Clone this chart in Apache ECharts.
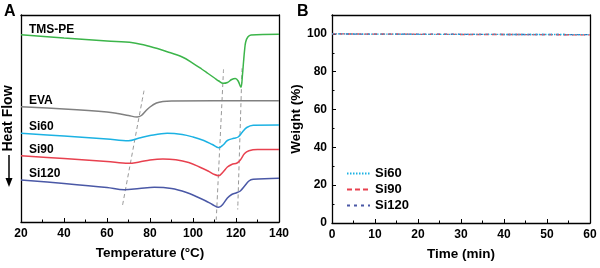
<!DOCTYPE html>
<html><head><meta charset="utf-8">
<script src="https://cdn.jsdelivr.net/npm/echarts@6/dist/echarts.min.js"></script>
<style>html,body{margin:0;padding:0;background:#fff}#c{width:600px;height:268px}</style>
</head><body><div id="c"></div>
<script>
// ---------- Panel A (DSC) ----------
const tmsT = [20,40,60,72,80,88,95,100,104,107,110,112,114,116,118,119.7,121,122.3,123,123.5,124,124.5,125.5,127,140];
const tmsV = [187.3,184,181,179.3,175.5,170.3,165,158.7,153,148.5,144,141,138.7,139.5,142.5,143.5,141,134.7,147,160,172,180,185,187,187.7];
const evaT = [20,40,60,65,70,74,76,78,80,83,86,90,140];
const evaV = [115.3,113,110,108.5,106.5,105,106.5,111,115,119,120.5,121,121.3];
const si60T = [20,40,60,70,75,80,88,95,100,105,109,112,114,116,119,121,123,125,128,140];
const si60V = [88.7,86,83,81.3,84,86.5,88.7,87.5,85,81.5,77.5,74.3,77,81.5,83.7,85,90,94.5,96.8,97];
const si90T = [20,40,60,70,75,80,86,92,98,103,107,110,112,114,116,118,120.5,122,124,126,130,140];
const si90V = [66.3,63.5,60.5,58.7,60,62,63,62.2,59.5,55,51,47.5,46.3,50,55,57.5,59,62,68.5,71.2,72.4,72.5];
const si120T = [20,40,60,68,75,82,90,97,102,106,109,112,114,116,118,120,122,124,126,128,140];
const si120V = [42,38.5,34.5,32.3,33.5,34.7,33.5,29.5,25,21,17.5,14.7,18,24,27.5,29,31,36,41,42.7,43.7];
const guide1T = [77.2,67.1], guide1V = [131.3,15.3];
const guide2T = [114.2,110.8], guide2V = [152.7,2];
const guide3T = [122.8,120.8], guide3V = [153.7,12.5];
const curveNamesA = ['TMS-PE','EVA','Si60','Si90','Si120'];
const tempTicks = {min:20, max:140, step:20};

// ---------- Panel B (TGA) ----------
const timeMin = [0,10,20,30,40,50,60];
const si60W = [100,99.9,99.8,99.8,99.7,99.7,99.6];
const si90W = [100,99.9,99.8,99.7,99.7,99.6,99.5];
const si120W = [100,99.9,99.9,99.8,99.7,99.7,99.6];
const timeTicks = {min:0, max:60, step:10};
const weightTicks = {min:0, max:110, step:20};

const zip = (a,b)=>a.map((v,i)=>[v,b[i]]);
const FONT = '"Liberation Sans", Arial, sans-serif';
const C = {tms:'#3cb54a', eva:'#808080', si60:'#1cb2e3', si90:'#e8414f', si120:'#4a58a6', guide:'#999999'};

const lab = {fontFamily:FONT, fontWeight:'bold', fontSize:12, color:'#000'};
function bottomAxis(grid, t){
  return {type:'value', gridIndex:grid, min:t.min, max:t.max, interval:t.step,
    axisLine:{lineStyle:{color:'#000',width:1.3}},
    axisTick:{inside:true,length:4,lineStyle:{color:'#000',width:1}},
    minorTick:{show:true,splitNumber:2,length:2.5,lineStyle:{color:'#000',width:1}},
    axisLabel:Object.assign({margin:6},lab), splitLine:{show:false}};
}
function plainAxis(type, grid, pos, ext){
  return Object.assign({type:'value', gridIndex:grid, position:pos,
    axisLine:{show:true,onZero:false,lineStyle:{color:'#000',width:1.3}},
    axisTick:{show:false}, axisLabel:{show:false}, splitLine:{show:false}}, ext||{});
}
function line(name, data, color, xi, yi, type, width){
  return {name, type:'line', xAxisIndex:xi, yAxisIndex:yi, data, showSymbol:false, symbol:'none',
    smooth:0.35, lineStyle:{color, width:width||1.5, type:type||'solid'}, itemStyle:{color}, silent:true, z:3};
}

const chart = echarts.init(document.getElementById('c'), null, {renderer:'canvas'});
const xBottomA = bottomAxis(0,tempTicks);
xBottomA.name = 'Temperature (°C)'; xBottomA.nameLocation='middle'; xBottomA.nameGap=24;
xBottomA.nameTextStyle = {fontFamily:FONT,fontWeight:'bold',fontSize:13.5,color:'#000'};
const xBottomB = bottomAxis(1,timeTicks);
xBottomB.name = 'Time (min)'; xBottomB.nameLocation='middle'; xBottomB.nameGap=24;
xBottomB.nameTextStyle = {fontFamily:FONT,fontWeight:'bold',fontSize:13.5,color:'#000'};
const yLeftB = bottomAxis(1,weightTicks);
yLeftB.axisLabel.showMaxLabel = false; yLeftB.axisLabel.margin = 5;
yLeftB.name='Weight (%)'; yLeftB.nameLocation='middle'; yLeftB.nameGap=27;
yLeftB.nameTextStyle = {fontFamily:FONT,fontWeight:'bold',fontSize:13.5,color:'#000'};

const option = {
  animation:false,
  backgroundColor:'#fff',
  grid:[{left:21,top:15,width:258,height:207,containLabel:false},
        {left:332,top:15,width:258,height:208,containLabel:false}],
  xAxis:[xBottomA,
    plainAxis('x',0,'top',{min:tempTicks.min,max:tempTicks.max}),
    xBottomB,
    plainAxis('x',1,'top',{min:timeTicks.min,max:timeTicks.max})],
  yAxis:[plainAxis('y',0,'left',{min:0,max:207,name:'Heat Flow',nameLocation:'middle',nameGap:6,
          nameTextStyle:{fontFamily:FONT,fontWeight:'bold',fontSize:14,color:'#000'}}),
    plainAxis('y',0,'right',{min:0,max:207}),
    yLeftB,
    plainAxis('y',1,'right',{min:weightTicks.min,max:weightTicks.max})],
  legend:{data:['Si60','Si90','Si120'], orient:'vertical', left:341, top:162, itemWidth:23, itemHeight:10,
    itemGap:3, itemStyle:{opacity:0}, textStyle:{fontFamily:FONT,fontWeight:'bold',fontSize:13,color:'#000'}, selectedMode:false},
  series:[
    line('g1', zip(guide1T,guide1V), C.guide, 0,0,[4,3],1),
    line('g2', zip(guide2T,guide2V), C.guide, 0,0,[4,3],1),
    line('g3', zip(guide3T,guide3V), C.guide, 0,0,[4,3],1),
    line(curveNamesA[0], zip(tmsT,tmsV), C.tms, 0,0),
    line(curveNamesA[1], zip(evaT,evaV), C.eva, 0,0),
    line('A-'+curveNamesA[2], zip(si60T,si60V), C.si60, 0,0),
    line('A-'+curveNamesA[3], zip(si90T,si90V), C.si90, 0,0),
    line('A-'+curveNamesA[4], zip(si120T,si120V), C.si120, 0,0),
    line('Si120', zip(timeMin,si120W), C.si120, 2,2,[3,4],1.3),
    line('Si90', zip(timeMin,si90W), C.si90, 2,2,[5,3],1.3),
    line('Si60', zip(timeMin,si60W), C.si60, 2,2,[1.5,1.5],1.3)
  ],
  graphic:[
    {type:'text', left:4, top:4, style:{text:'A', font:'bold 16px '+FONT, fill:'#000'}},
    {type:'text', left:297, top:4, style:{text:'B', font:'bold 16px '+FONT, fill:'#000'}},
    {type:'text', left:29, top:24, style:{text:curveNamesA[0], font:'bold 12px '+FONT, fill:'#000'}},
    {type:'text', left:29, top:95, style:{text:curveNamesA[1], font:'bold 12px '+FONT, fill:'#000'}},
    {type:'text', left:29, top:121, style:{text:curveNamesA[2], font:'bold 12px '+FONT, fill:'#000'}},
    {type:'text', left:29, top:144, style:{text:curveNamesA[3], font:'bold 12px '+FONT, fill:'#000'}},
    {type:'text', left:29, top:168, style:{text:curveNamesA[4], font:'bold 12px '+FONT, fill:'#000'}},
    {type:'line', shape:{x1:9,y1:155,x2:9,y2:180}, style:{stroke:'#000',lineWidth:1.5}},
    {type:'polygon', shape:{points:[[5.5,178],[12.5,178],[9,187]]}, style:{fill:'#000'}}
  ]
};
chart.setOption(option);
</script></body></html>
